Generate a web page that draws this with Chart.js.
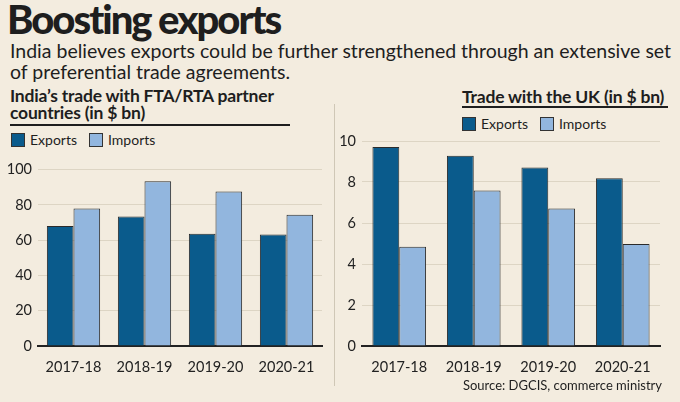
<!DOCTYPE html>
<html lang="en">
<head>
    <meta charset="UTF-8">
    <title>Boosting exports</title>
    <script src="https://cdn.jsdelivr.net/npm/chart.js"></script>
    <style>
        body {
            margin: 0;
            width: 680px;
            height: 402px;
            background: #f3ecdf;
            font-family: Lato, sans-serif;
            color: #1e1e1e;
            position: relative;
            overflow: hidden;
        }
        .abs { position: absolute; white-space: nowrap; }
        #title { left: 7px; top: -5px; font-size: 40px; font-weight: 900; letter-spacing: -2px; }
        #sub { left: 10px; top: 40px; font-size: 19.5px; line-height: 21px; }
        .ctitle { font-size: 17.5px; font-weight: bold; line-height: 17px; letter-spacing: -0.2px; }
        .rule { position: absolute; height: 2px; background: #1e1e1e; }
        .legend { font-size: 14px; }
        .legend span.box { display: inline-block; width: 12px; height: 12px; border: 1px solid #333; vertical-align: -2px; margin-right: 5px; }
        .legend span.item { margin-right: 12px; }
        #sep { position: absolute; left: 334px; top: 104px; width: 1px; height: 282px; background: #cfc7b6; }
        canvas { position: absolute; }
        #source { right: 18px; top: 377px; font-size: 13px; z-index: 2; }
    </style>
</head>
<body>
    <div class="abs" id="title">Boosting exports</div>
    <div class="abs" id="sub">India believes exports could be further strengthened through an extensive set<br>of preferential trade agreements.</div>

    <div class="abs ctitle" style="left:10px; top:87px;">India’s trade with FTA/RTA partner<br>countries (in $ bn)</div>
    <div class="rule" style="left:10px; top:124px; width:280px;"></div>
    <div class="abs ctitle" style="left:462px; top:88px;">Trade with the UK (in $ bn)</div>
    <div class="rule" style="left:462px; top:106px; width:206px;"></div>

    <div class="abs legend" id="legendLeft" style="left:11px; top:131px;"></div>
    <div class="abs legend" id="legendRight" style="left:462px; top:115px;"></div>

    <div id="sep"></div>

    <canvas id="ftaChart" width="335" height="235" style="left:0px; top:155px;"></canvas>
    <canvas id="ukChart" width="335" height="265" style="left:340px; top:125px;"></canvas>

    <div class="abs" id="source">Source: DGCIS, commerce ministry</div>

    <script>
        // data
        var years = ['2017-18', '2018-19', '2019-20', '2020-21'];
        var seriesNames = ['Exports', 'Imports'];
        var ftaExports = [68, 73.5, 63.7, 63.2];
        var ftaImports = [78, 93.4, 87.7, 74.5];
        var ukExports = [9.71, 9.28, 8.71, 8.18];
        var ukImports = [4.84, 7.59, 6.71, 4.97];
        var ftaTicks = [0, 20, 40, 60, 80, 100];
        var ukTicks = [0, 2, 4, 6, 8, 10];

        var darkBlue = '#0a5b8c';
        var lightBlue = '#92b6de';
        var fontFamily = 'Lato, sans-serif';

        // html legends
        function buildLegend(id) {
            var colors = [darkBlue, lightBlue];
            var html = '';
            seriesNames.forEach(function (name, i) {
                html += '<span class="item"><span class="box" style="background:' + colors[i] + '"></span>' + name + '</span>';
            });
            document.getElementById(id).innerHTML = html;
        }
        buildLegend('legendLeft');
        buildLegend('legendRight');

        function makeChart(canvasId, exportsData, importsData, tickValues, yWidth, pad, catPct) {
            var ctx = document.getElementById(canvasId).getContext('2d');
            return new Chart(ctx, {
                type: 'bar',
                data: {
                    labels: years,
                    datasets: [{
                        label: seriesNames[0],
                        data: exportsData,
                        backgroundColor: darkBlue,
                        borderColor: '#2b2b2b',
                        borderWidth: 1,
                        categoryPercentage: catPct,
                        barPercentage: 1.0
                    }, {
                        label: seriesNames[1],
                        data: importsData,
                        backgroundColor: lightBlue,
                        borderColor: '#2b2b2b',
                        borderWidth: 1,
                        categoryPercentage: catPct,
                        barPercentage: 1.0
                    }]
                },
                options: {
                    responsive: false,
                    animation: false,
                    layout: { padding: pad },
                    plugins: {
                        legend: { display: false },
                        tooltip: { enabled: false }
                    },
                    scales: {
                        x: {
                            grid: { display: false },
                            border: { display: true, color: '#222', width: 2 },
                            ticks: { color: '#222', font: { family: fontFamily, size: 14.5 }, padding: 5 },
                            afterFit: function (s) { s.height = 30; }
                        },
                        y: {
                            min: tickValues[0],
                            max: tickValues[tickValues.length - 1],
                            afterBuildTicks: function (s) {
                                s.ticks = tickValues.map(function (v) { return { value: v }; });
                            },
                            grid: { color: '#ddd5c4', lineWidth: 1, drawTicks: false },
                            border: { display: false },
                            ticks: { color: '#222', font: { family: fontFamily, size: 14.5 }, padding: 6 },
                            afterFit: function (s) { s.width = yWidth; }
                        }
                    }
                }
            });
        }

        makeChart('ftaChart', ftaExports, ftaImports, ftaTicks, 38,
            { left: 0, right: 13, top: 14, bottom: 14 }, 0.75);
        makeChart('ukChart', ukExports, ukImports, ukTicks, 22,
            { left: 0, right: 15, top: 16, bottom: 14 }, 0.72);
    </script>
</body>
</html>
